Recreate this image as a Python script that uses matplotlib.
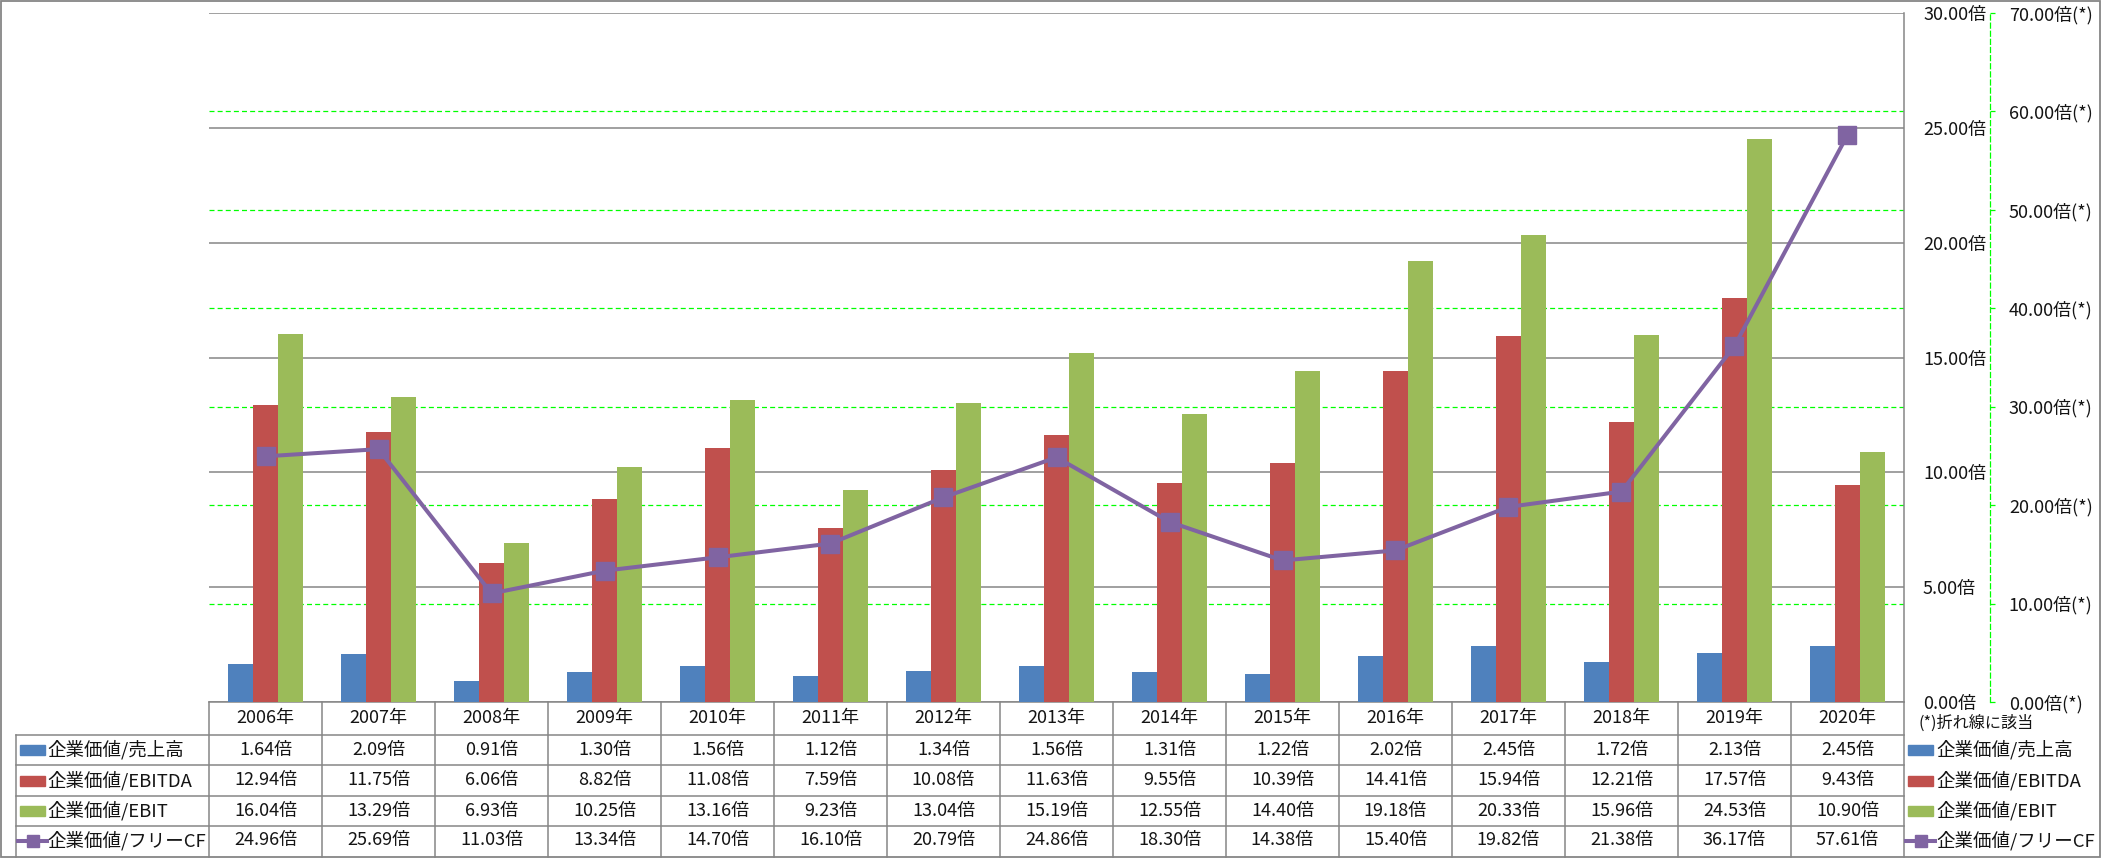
import matplotlib
matplotlib.use('Agg')
import matplotlib.pyplot as plt
import numpy as np
from matplotlib.transforms import blended_transform_factory
from matplotlib.lines import Line2D
from matplotlib.patches import Rectangle

plt.rcParams['font.family'] = ['Noto Sans CJK JP', 'DejaVu Sans']

# データ
years = ['2006年', '2007年', '2008年', '2009年', '2010年', '2011年', '2012年', '2013年',
         '2014年', '2015年', '2016年', '2017年', '2018年', '2019年', '2020年']
ev_sales = [1.64, 2.09, 0.91, 1.30, 1.56, 1.12, 1.34, 1.56, 1.31, 1.22, 2.02, 2.45, 1.72, 2.13, 2.45]
ev_ebitda = [12.94, 11.75, 6.06, 8.82, 11.08, 7.59, 10.08, 11.63, 9.55, 10.39, 14.41, 15.94, 12.21, 17.57, 9.43]
ev_ebit = [16.04, 13.29, 6.93, 10.25, 13.16, 9.23, 13.04, 15.19, 12.55, 14.40, 19.18, 20.33, 15.96, 24.53, 10.90]
ev_fcf = [24.96, 25.69, 11.03, 13.34, 14.70, 16.10, 20.79, 24.86, 18.30, 14.38, 15.40, 19.82, 21.38, 36.17, 57.61]
series_names = ['企業価値/売上高', '企業価値/EBITDA', '企業価値/EBIT', '企業価値/フリーCF']
primary_ticks = np.arange(0, 31, 5)
secondary_ticks = np.arange(0, 71, 10)

c_blue, c_red, c_green, c_purple = '#4F81BD', '#C0504D', '#9BBB59', '#8064A2'
gray = '#868686'
txt = '#141414'
fs = 13
fs_leg = 13.3

W, H = 2101, 858
fig = plt.figure(figsize=(W / 100, H / 100), dpi=100)
fig.patch.set_facecolor('white')

# 全体のピクセル座標用オーバーレイ
ov = fig.add_axes([0, 0, 1, 1])
ov.set_xlim(0, W)
ov.set_ylim(H, 0)
ov.axis('off')

ax1 = fig.add_axes([209 / W, 1 - 702 / H, (1904 - 209) / W, (702 - 13) / H])
ax1.set_facecolor('none')
ax2 = ax1.twinx()

x = np.arange(len(years))
w = 0.221
ax1.bar(x - w, ev_sales, w, color=c_blue, zorder=2)
ax1.bar(x, ev_ebitda, w, color=c_red, zorder=2)
ax1.bar(x + w, ev_ebit, w, color=c_green, zorder=2)
ax1.set_xlim(-0.5, len(years) - 0.5)
ax1.set_ylim(0, 30)
ax1.set_axisbelow(True)
ax1.yaxis.grid(True, color=gray, lw=1.1)
ax1.set_xticks([])

ax2.plot(x, ev_fcf, color=c_purple, lw=2.9, marker='s', ms=12.5, mec=c_purple, mfc=c_purple, zorder=3)
ax2.set_ylim(0, 70)

# 第2軸の補助線（棒の後ろ）
tr2 = blended_transform_factory(ax1.transAxes, ax2.transData)
for v in secondary_ticks[1:-1]:
    ax1.plot([0, 1], [v, v], transform=tr2, color='#00FF00', lw=0.9, ls=(0, (4, 2.5)), zorder=1)

# 軸の体裁
for s in ['top', 'left', 'bottom']:
    ax1.spines[s].set_visible(False)
    ax2.spines[s].set_visible(False)
ax1.spines['right'].set_color(gray)
ax1.spines['right'].set_linewidth(1.1)
ax1.yaxis.tick_right()
ax1.set_yticks(primary_ticks)
ax1.set_yticklabels([f'{v:.2f}倍' for v in primary_ticks])
ax1.tick_params(axis='y', length=0, pad=13.7, labelsize=fs, labelcolor=txt)

ax2.spines['right'].set_position(('outward', 61.9))
ax2.spines['right'].set_color('#00FF00')
ax2.spines['right'].set_linestyle((0, (4, 2.5)))
ax2.spines['right'].set_linewidth(0.9)
ax2.set_yticks(secondary_ticks)
ax2.set_yticklabels([f'{v:.2f}倍(*)' for v in secondary_ticks])
ax2.tick_params(axis='y', length=3.6, width=0.9, color='#00FF00', pad=10, labelsize=fs, labelcolor=txt)

# データテーブル
tr_tab = blended_transform_factory(ax1.transData, ov.transData)
header_y = 718.5
row_y = [750, 780.5, 811, 840.5]
row_lines = [735, 765, 796, 826]
bottom = 857

for i, yr in enumerate(years):
    ov.text(i, header_y, yr, transform=tr_tab, ha='center', va='center', fontsize=fs, color=txt)
for vals, yc in zip([ev_sales, ev_ebitda, ev_ebit, ev_fcf], row_y):
    for i, v in enumerate(vals):
        ov.text(i, yc, f'{v:.2f}倍', transform=tr_tab, ha='center', va='center', fontsize=fs, color=txt)

for b in np.arange(len(years) + 1) - 0.5:
    ov.plot([b, b], [702, bottom], transform=tr_tab, color=gray, lw=1.1)
ov.plot([209, 1904], [702, 702], color=gray, lw=1.1)
for yl in row_lines:
    ov.plot([16, 1904], [yl, yl], color=gray, lw=1.1)
ov.plot([16, 16], [735, bottom], color=gray, lw=1.1)

# 凡例（左・右）
for x0, tx in [(20, 47), (1908, 1936)]:
    for name, col, yc in zip(series_names[:3], [c_blue, c_red, c_green], row_y[:3]):
        ov.add_patch(Rectangle((x0, yc - 5), 25, 10, color=col))
        ov.text(tx, yc, name, ha='left', va='center', fontsize=fs_leg, color=txt)
    yc = row_y[3]
    ov.add_artist(Line2D([x0 - 2, x0 + 27], [yc, yc], color=c_purple, lw=2.9))
    ov.add_artist(Line2D([x0 + 12.5], [yc], color=c_purple, marker='s', ms=8.5))
    ov.text(tx, yc, series_names[3], ha='left', va='center', fontsize=fs_leg, color=txt)

ov.text(1918, 723, '(*)折れ線に該当', ha='left', va='center', fontsize=11.6, color=txt)

# 外枠
ov.add_patch(Rectangle((0.8, 0.8), W - 1.8, H - 1.8, fill=False, ec=gray, lw=1.3))

fig.savefig('out.png', dpi=100)
